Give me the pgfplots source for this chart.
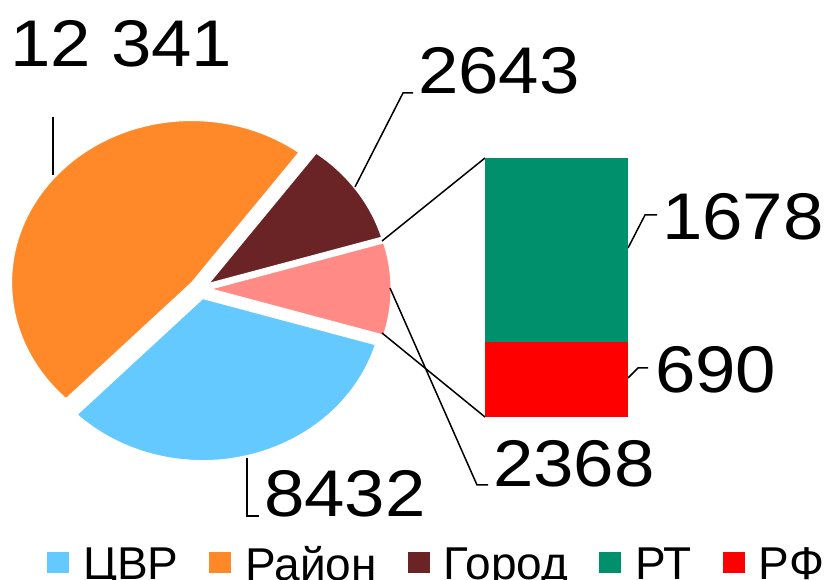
\documentclass[border=0pt]{standalone}
\usepackage{fontspec}
\setmainfont{Liberation Sans}
\newfontfamily\lab[FakeStretch=1.1]{Liberation Sans}
\usepackage{pgfplots}
\pgfplotsset{compat=1.18}
\definecolor{cBlue}{HTML}{63C9FF}
\definecolor{cOrange}{HTML}{FF8929}
\definecolor{cBrown}{HTML}{6B2426}
\definecolor{cPink}{HTML}{FF8A86}
\definecolor{cGreen}{HTML}{00916C}
\definecolor{cRed}{HTML}{FF0000}
\begin{document}
\begin{tikzpicture}
% data
\def\vCVR{8432}\def\vRayon{12341}\def\vGorod{2643}\def\vRT{1678}\def\vRF{690}
\pgfmathsetmacro\vOther{\vRT+\vRF}
\pgfmathsetmacro\T{\vCVR/1000+\vRayon/1000+\vGorod/1000+\vOther/1000}
% angles (counter-clockwise from the right)
\pgfmathsetmacro\sP{-180*(\vOther/1000)/\T}\pgfmathsetmacro\eP{180*(\vOther/1000)/\T}
\pgfmathsetmacro\sG{\eP}\pgfmathsetmacro\eG{\sG+360*(\vGorod/1000)/\T}
\pgfmathsetmacro\sR{\eG}\pgfmathsetmacro\eR{\sR+360*(\vRayon/1000)/\T}
\pgfmathsetmacro\sC{\eR}\pgfmathsetmacro\eC{360+\sP}
% exploded centres
\def\CX{200}\def\CY{291}\def\D{11}\def\RX{180}\def\RY{162}
\pgfmathsetmacro\xP{\CX+\D*cos((\sP+\eP)/2)}\pgfmathsetmacro\yP{\CY+0.9*\D*sin((\sP+\eP)/2)}
\pgfmathsetmacro\xG{\CX+\D*cos((\sG+\eG)/2)}\pgfmathsetmacro\yG{\CY+0.9*\D*sin((\sG+\eG)/2)}
\pgfmathsetmacro\xR{\CX+\D*cos((\sR+\eR)/2)}\pgfmathsetmacro\yR{\CY+0.9*\D*sin((\sR+\eR)/2)}
\pgfmathsetmacro\xC{\CX+\D*cos((\sC+\eC)/2)}\pgfmathsetmacro\yC{\CY+0.9*\D*sin((\sC+\eC)/2)}
\begin{axis}[
  at={(0pt,0pt)}, anchor=south west,
  scale only axis, width=838pt, height=580pt,
  xmin=0, xmax=838, ymin=0, ymax=580,
  hide axis, clip=false,
  legend columns=5,
  legend image code/.code={\fill[#1,draw=none] (0pt,-9pt) rectangle (22pt,12pt);},
  legend style={draw=none, fill=none, inner sep=0pt, outer sep=0pt,
    at={(axis cs:47,16)}, anchor=base west,
    font=\fontsize{46}{48}\selectfont,
    nodes={inner sep=0pt},
    /tikz/every odd column/.append style={column sep=14pt},
    /tikz/every even column/.append style={column sep=31pt}},
]
\addplot[fill=cBlue, draw=white, line width=1pt, domain=\sC:\eC, samples=90, variable=\t]
  ({\xC+\RX*cos(t)},{\yC+\RY*sin(t)}) -- (axis cs:\xC,\yC) -- cycle;
\addlegendentry{ЦВР}
\addplot[fill=cOrange, draw=white, line width=1pt, domain=\sR:\eR, samples=120, variable=\t]
  ({\xR+\RX*cos(t)},{\yR+\RY*sin(t)}) -- (axis cs:\xR,\yR) -- cycle;
\addlegendentry{Район}
\addplot[fill=cBrown, draw=white, line width=1pt, domain=\sG:\eG, samples=40, variable=\t]
  ({\xG+\RX*cos(t)},{\yG+\RY*sin(t)}) -- (axis cs:\xG,\yG) -- cycle;
\addlegendentry{Город\hspace{8pt}}
\addplot[forget plot, fill=cPink, draw=white, line width=1pt, domain=\sP:\eP, samples=40, variable=\t]
  ({\xP+\RX*cos(t)},{\yP+\RY*sin(t)}) -- (axis cs:\xP,\yP) -- cycle;
\addlegendimage{fill=cGreen}\addlegendentry{РТ}
\addlegendimage{fill=cRed}\addlegendentry{РФ}
% connector and leader lines
\addplot[forget plot, black, line width=1.5pt] coordinates {(382,339) (485,422)};
\addplot[forget plot, black, line width=1.5pt] coordinates {(382,247) (485,163)};
\addplot[forget plot, black, line width=1.5pt] coordinates {(53,463) (53,405)};
\addplot[forget plot, black, line width=1.5pt] coordinates {(355,393) (403,487) (413,487)};
\addplot[forget plot, black, line width=1.5pt] coordinates {(390,292) (477,95) (488,95)};
\addplot[forget plot, black, line width=1.5pt] coordinates {(628,332) (645,365) (657,365)};
\addplot[forget plot, black, line width=1.5pt] coordinates {(628,202) (638,212) (648,212)};
\addplot[forget plot, black, line width=1.5pt] coordinates {(247,122) (247,64) (259,64)};
% data labels
\begin{scope}[every node/.style={anchor=base west, inner sep=0pt, font=\lab\fontsize{66}{70}\selectfont}]
\node at (axis cs:10,513) {12 341};
\node at (axis cs:418,486) {2643};
\node at (axis cs:662,340) {1678};
\node at (axis cs:655,187) {690};
\node at (axis cs:493,93) {2368};
\node at (axis cs:264,63) {8432};
\end{scope}
\end{axis}
\begin{axis}[
  at={(485pt,163pt)}, anchor=south west,
  scale only axis, width=143pt, height=259pt,
  xmin=-0.5, xmax=0.5, ymin=0, ymax=\vOther,
  hide axis, clip=false,
  ybar stacked, bar width=1,
]
\addplot[fill=cRed, draw=none] coordinates {(0,\vRF)};
\addplot[fill=cGreen, draw=none] coordinates {(0,\vRT)};
\end{axis}
\pgfresetboundingbox
\path[use as bounding box] (0,0) rectangle (838pt,580pt);
\end{tikzpicture}
\end{document}
